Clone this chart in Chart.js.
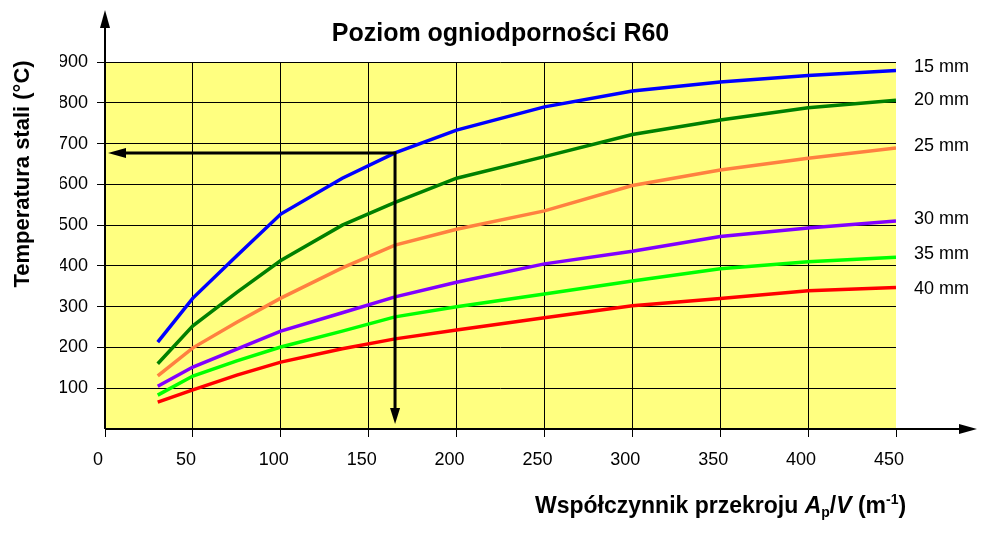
<!DOCTYPE html>
<html>
<head>
<meta charset="utf-8">
<script src="https://cdn.jsdelivr.net/npm/chart.js"></script>
<style>
  body { margin: 0; background: #fff; }
  #wrap { width: 984px; height: 538px; }
</style>
</head>
<body>
<div id="wrap"><canvas id="chart" width="984" height="538"></canvas></div>
<script>
// współczynnik przekroju (m-1)
const xValues = [30, 50, 75, 100, 135, 165, 200, 250, 300, 350, 400, 450];

// temperatura stali (°C) for each insulation thickness
const t15 = [213, 321, 425, 527, 615, 677, 733, 790, 829, 851, 867, 879];
const t20 = [160, 253, 335, 413, 500, 556, 615, 668, 722, 758, 788, 806];
const t25 = [130, 199, 262, 321, 395, 451, 490, 535, 597, 635, 664, 689];
const t30 = [105, 152, 196, 240, 285, 324, 360, 405, 436, 472, 493, 510];
const t35 = [83, 130, 167, 201, 240, 275, 300, 331, 363, 393, 410, 421];
const t40 = [66, 96, 132, 164, 197, 221, 243, 273, 302, 320, 339, 347];

const seriesLabels = ["15 mm", "20 mm", "25 mm", "30 mm", "35 mm", "40 mm"];
const labelY = [888, 807, 694, 515, 428, 343];
const colors = ["#0000FF", "#008000", "#FF8040", "#8000FF", "#00FF00", "#FF0000"];

// reading shown by the arrows
const markX = 165;
const markY = 677;

const FONT = "'Liberation Sans', Arial, sans-serif";
const allSeries = [t15, t20, t25, t30, t35, t40];

function arrowHead(ctx, x, y, dir, len, half) {
  ctx.beginPath();
  ctx.moveTo(x, y);
  if (dir === "left") { ctx.lineTo(x + len, y - half); ctx.lineTo(x + len, y + half); }
  if (dir === "right") { ctx.lineTo(x - len, y - half); ctx.lineTo(x - len, y + half); }
  if (dir === "up") { ctx.lineTo(x - half, y + len); ctx.lineTo(x + half, y + len); }
  if (dir === "down") { ctx.lineTo(x - half, y - len); ctx.lineTo(x + half, y - len); }
  ctx.closePath();
  ctx.fill();
}

const decor = {
  id: "decor",
  beforeDraw(chart) {
    const a = chart.chartArea;
    const ctx = chart.ctx;
    ctx.save();
    ctx.fillStyle = "#FFFF80";
    ctx.fillRect(a.left, a.top, a.right - a.left, a.bottom - a.top);
    ctx.restore();
  },
  afterDatasetsDraw(chart) {
    const a = chart.chartArea;
    const ctx = chart.ctx;
    const xs = chart.scales.x, ys = chart.scales.y;
    ctx.save();
    ctx.strokeStyle = "#000";
    ctx.fillStyle = "#000";

    // axes with arrows
    ctx.lineWidth = 2;
    ctx.beginPath();
    ctx.moveTo(a.left, a.bottom);
    ctx.lineTo(a.left, a.top - 40);
    ctx.moveTo(a.left, a.bottom);
    ctx.lineTo(a.right + 70, a.bottom);
    ctx.stroke();
    arrowHead(ctx, a.left, a.top - 52, "up", 18, 5);
    arrowHead(ctx, a.right + 81, a.bottom, "right", 18, 5);

    // reading arrows
    const px = xs.getPixelForValue(markX);
    const py = ys.getPixelForValue(markY);
    ctx.lineWidth = 3;
    ctx.beginPath();
    ctx.moveTo(a.left + 15, py);
    ctx.lineTo(px, py);
    ctx.lineTo(px, a.bottom - 15);
    ctx.stroke();
    arrowHead(ctx, a.left + 3, py, "left", 18, 5);
    arrowHead(ctx, px, a.bottom - 5, "down", 16, 5);
    ctx.restore();
  },
  afterDraw(chart) {
    const a = chart.chartArea;
    const ctx = chart.ctx;
    const ys = chart.scales.y;
    ctx.save();
    ctx.fillStyle = "#000";

    // thickness labels
    ctx.font = "18px " + FONT;
    ctx.textAlign = "left";
    ctx.textBaseline = "middle";
    seriesLabels.forEach(function (lab, i) {
      ctx.fillText(lab, a.right + 18, ys.getPixelForValue(labelY[i]));
    });

    // y title
    ctx.save();
    ctx.translate(23, 174);
    ctx.rotate(-Math.PI / 2);
    ctx.font = "bold 22px " + FONT;
    ctx.textAlign = "center";
    ctx.textBaseline = "middle";
    ctx.fillText("Temperatura stali (°C)", 0, 0);
    ctx.restore();

    // x title with italic, subscript and superscript parts
    const parts = [
      { t: "Współczynnik przekroju ", f: "bold 23px ", dy: 0 },
      { t: "A", f: "italic bold 23px ", dy: 0 },
      { t: "p", f: "bold 14px ", dy: 4 },
      { t: "/", f: "bold 23px ", dy: 0 },
      { t: "V", f: "italic bold 23px ", dy: 0 },
      { t: " (m", f: "bold 23px ", dy: 0 },
      { t: "-1", f: "bold 14px ", dy: -9 },
      { t: ")", f: "bold 23px ", dy: 0 }
    ];
    let x = 535;
    const base = 513;
    ctx.textAlign = "left";
    ctx.textBaseline = "alphabetic";
    parts.forEach(function (p) {
      ctx.font = p.f + FONT;
      ctx.fillText(p.t, x, base + p.dy);
      x += ctx.measureText(p.t).width;
    });
    ctx.restore();
  }
};

const datasets = allSeries.map(function (vals, i) {
  return {
    label: seriesLabels[i],
    data: xValues.map(function (x, j) { return { x: x, y: vals[j] }; }),
    borderColor: colors[i],
    borderWidth: 3.5,
    pointRadius: 0,
    tension: 0,
    fill: false
  };
});

new Chart(document.getElementById("chart").getContext("2d"), {
  type: "line",
  data: { datasets: datasets },
  options: {
    responsive: false,
    animation: false,
    layout: { padding: { left: 60, right: 88, top: 0, bottom: 69 } },
    plugins: {
      legend: { display: false },
      tooltip: { enabled: false },
      title: {
        display: true,
        text: "Poziom ogniodporności R60",
        fullSize: false,
        color: "#000",
        font: { family: FONT, size: 25, weight: "bold" },
        padding: { top: 19, bottom: 13 }
      }
    },
    scales: {
      x: {
        type: "linear",
        min: 0,
        max: 450,
        ticks: { stepSize: 50, color: "#000", font: { family: FONT, size: 18 }, padding: 12, labelOffset: -7, maxRotation: 0, autoSkip: false },
        grid: {
          color: function (c) { return c.tick && (c.tick.value === 0 || c.tick.value === 450) ? "transparent" : "#000"; },
          tickColor: "#000",
          tickLength: 8,
          lineWidth: 1
        },
        border: { display: false },
        afterFit: function (s) { s.height = 40; }
      },
      y: {
        min: 0,
        max: 900,
        ticks: {
          stepSize: 100,
          color: "#000",
          font: { family: FONT, size: 18 },
          padding: 9,
          callback: function (v) { return v === 0 ? "" : v; }
        },
        grid: {
          color: function (c) { return c.tick && c.tick.value === 0 ? "transparent" : "#000"; },
          tickColor: function (c) { return c.tick && c.tick.value === 0 ? "transparent" : "#000"; },
          tickLength: 8,
          lineWidth: 1
        },
        border: { display: false },
        afterFit: function (s) { s.width = 45; }
      }
    }
  },
  plugins: [decor]
});
</script>
</body>
</html>
